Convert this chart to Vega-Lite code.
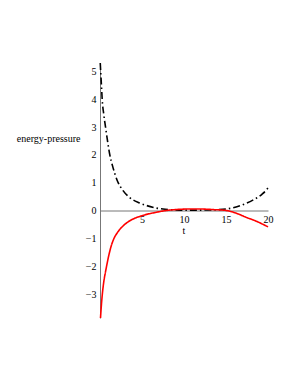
{
  "$schema": "https://vega.github.io/schema/vega-lite/v6.json",
  "width": 168,
  "height": 255,
  "autosize": {"type": "none"},
  "padding": {"left": 100, "top": 63, "right": 27, "bottom": 64},
  "background": "white",
  "config": {"view": {"stroke": null}, "font": "Liberation Serif"},
  "data": {"values": [
    {"t": 0.03, "v": 5.3, "s": "energy"},
    {"t": 0.1, "v": 4.9, "s": "energy"},
    {"t": 0.18, "v": 4.45, "s": "energy"},
    {"t": 0.26, "v": 4.0, "s": "energy"},
    {"t": 0.45, "v": 3.45, "s": "energy"},
    {"t": 0.66, "v": 3.0, "s": "energy"},
    {"t": 0.9, "v": 2.5, "s": "energy"},
    {"t": 1.17, "v": 2.0, "s": "energy"},
    {"t": 1.5, "v": 1.6, "s": "energy"},
    {"t": 2.1, "v": 1.05, "s": "energy"},
    {"t": 2.7, "v": 0.74, "s": "energy"},
    {"t": 3.5, "v": 0.48, "s": "energy"},
    {"t": 4.7, "v": 0.28, "s": "energy"},
    {"t": 5.5, "v": 0.19, "s": "energy"},
    {"t": 6.6, "v": 0.1, "s": "energy"},
    {"t": 7.5, "v": 0.06, "s": "energy"},
    {"t": 8.5, "v": 0.035, "s": "energy"},
    {"t": 10, "v": 0.02, "s": "energy"},
    {"t": 11, "v": 0.02, "s": "energy"},
    {"t": 12, "v": 0.022, "s": "energy"},
    {"t": 13, "v": 0.025, "s": "energy"},
    {"t": 14, "v": 0.035, "s": "energy"},
    {"t": 15, "v": 0.06, "s": "energy"},
    {"t": 16.3, "v": 0.14, "s": "energy"},
    {"t": 17.2, "v": 0.24, "s": "energy"},
    {"t": 18.2, "v": 0.38, "s": "energy"},
    {"t": 19.25, "v": 0.58, "s": "energy"},
    {"t": 19.8, "v": 0.74, "s": "energy"},
    {"t": 20, "v": 0.82, "s": "energy"},
    {"t": 0.06, "v": -3.85, "s": "pressure"},
    {"t": 0.15, "v": -3.45, "s": "pressure"},
    {"t": 0.26, "v": -3.05, "s": "pressure"},
    {"t": 0.45, "v": -2.55, "s": "pressure"},
    {"t": 0.65, "v": -2.2, "s": "pressure"},
    {"t": 0.81, "v": -1.95, "s": "pressure"},
    {"t": 1.05, "v": -1.6, "s": "pressure"},
    {"t": 1.34, "v": -1.26, "s": "pressure"},
    {"t": 1.6, "v": -1.04, "s": "pressure"},
    {"t": 2.13, "v": -0.76, "s": "pressure"},
    {"t": 2.7, "v": -0.56, "s": "pressure"},
    {"t": 3.3, "v": -0.41, "s": "pressure"},
    {"t": 4.0, "v": -0.29, "s": "pressure"},
    {"t": 4.9, "v": -0.19, "s": "pressure"},
    {"t": 5.7, "v": -0.12, "s": "pressure"},
    {"t": 6.5, "v": -0.07, "s": "pressure"},
    {"t": 7.7, "v": 0.0, "s": "pressure"},
    {"t": 9.0, "v": 0.04, "s": "pressure"},
    {"t": 10.5, "v": 0.06, "s": "pressure"},
    {"t": 12.0, "v": 0.06, "s": "pressure"},
    {"t": 13.5, "v": 0.04, "s": "pressure"},
    {"t": 15, "v": 0.01, "s": "pressure"},
    {"t": 16.3, "v": -0.1, "s": "pressure"},
    {"t": 17.5, "v": -0.25, "s": "pressure"},
    {"t": 18.4, "v": -0.35, "s": "pressure"},
    {"t": 19.2, "v": -0.46, "s": "pressure"},
    {"t": 20, "v": -0.58, "s": "pressure"}
  ]},
  "mark": {"type": "line", "strokeWidth": 1.6, "clip": false, "interpolate": "monotone"},
  "encoding": {
    "x": {
      "field": "t", "type": "quantitative",
      "scale": {"domain": [0, 20], "nice": false, "zero": false},
      "axis": {
        "title": "t", "values": [5, 10, 15, 20], "grid": false, "ticks": false,
        "offset": -107.5, "domainColor": "#777", "domainWidth": 1,
        "labelFont": "Liberation Serif", "labelFontSize": 10, "labelColor": "#000",
        "labelPadding": 4, "labelFlush": false,
        "titleFont": "Liberation Serif", "titleFontSize": 10, "titleFontWeight": "normal",
        "titleColor": "#000", "titleX": 83.5, "titleY": 20, "titleBaseline": "middle", "titleAnchor": null, "titleAlign": "center"
      }
    },
    "y": {
      "field": "v", "type": "quantitative",
      "scale": {"domain": [-3.85, 5.3], "nice": false, "zero": false},
      "axis": {
        "title": "energy-pressure", "values": [-3, -2, -1, 0, 1, 2, 3, 4, 5], "grid": false, "ticks": false,
        "domainColor": "#777", "domainWidth": 1,
        "labelExpr": "datum.value < 0 ? '−' + abs(datum.value) : datum.label",
        "labelFont": "Liberation Serif", "labelFontSize": 10, "labelColor": "#000",
        "labelPadding": 4, "labelFlush": false,
        "titleFont": "Liberation Serif", "titleFontSize": 10, "titleFontWeight": "normal",
        "titleColor": "#000", "titleAngle": 0, "titleX": -20, "titleY": 75,
        "titleAlign": "right", "titleBaseline": "middle"
      }
    },
    "color": {
      "field": "s", "type": "nominal",
      "scale": {"domain": ["energy", "pressure"], "range": ["#000000", "#ff0000"]},
      "legend": null
    },
    "strokeDash": {
      "field": "s", "type": "nominal",
      "scale": {"domain": ["energy", "pressure"], "range": [[7, 3, 1.5, 3], [1, 0]]},
      "legend": null
    }
  }
}
